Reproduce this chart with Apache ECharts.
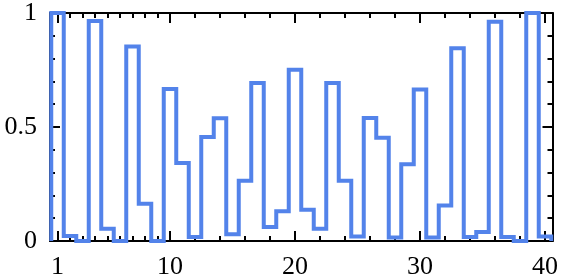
<!DOCTYPE html>
<html><head><meta charset="utf-8">
<script src="https://cdn.jsdelivr.net/npm/echarts@6/dist/echarts.min.js"></script>
<style>html,body{margin:0;padding:0;background:#fff}#c{width:561px;height:280px}</style>
</head><body><div id="c"></div>
<script>
// bins 1..40
const bins = Array.from({length: 40}, (_, i) => i + 1);
const values = [1.0, 0.022, 0.0, 0.965, 0.054, 0.0, 0.853, 0.163, 0.0, 0.667,
  0.342, 0.017, 0.456, 0.538, 0.03, 0.264, 0.693, 0.061, 0.131, 0.751,
  0.137, 0.054, 0.693, 0.264, 0.02, 0.54, 0.453, 0.015, 0.337, 0.664,
  0.015, 0.156, 0.845, 0.017, 0.039, 0.962, 0.017, 0.0, 1.0, 0.02];
const xMajor = [1, 10, 20, 30, 40];
const xMinor = [2, 3, 4, 5, 6, 7, 8, 9, 12, 14, 16, 18, 22, 24, 26, 28, 32, 34, 36, 38];
const yMajor = [0, 0.5, 1];
const yMinor = [0.1, 0.2, 0.3, 0.4, 0.6, 0.7, 0.8, 0.9];

// outline of the step histogram: each bin spans [bin-0.5, bin+0.5]
const pts = [[bins[0] - 0.5, 0]];
bins.forEach((b, i) => pts.push([b - 0.5, values[i]]));
pts.push([bins[bins.length - 1] + 0.5, 0]);

const font = {fontFamily: 'Liberation Serif', fontSize: 26, color: '#000'};
const lineStyle = {color: '#000', width: 2};
function xAx(pos, vals, len, showLine, showLabel) {
  return {type: 'value', position: pos, min: 0.4, max: 40.6,
    axisLine: {show: showLine, onZero: false, lineStyle},
    splitLine: {show: false},
    axisTick: {show: true, inside: true, length: len, customValues: vals, lineStyle: {color: '#000', width: 2}},
    axisLabel: Object.assign({show: showLabel, customValues: vals, margin: 13}, font)};
}
function yAx(pos, vals, len, showLine, showLabel) {
  return {type: 'value', position: pos, min: 0, max: 1,
    axisLine: {show: showLine, onZero: false, lineStyle},
    splitLine: {show: false},
    axisTick: {show: true, inside: true, length: len, customValues: vals, lineStyle: {color: '#000', width: 2}},
    axisLabel: Object.assign({show: showLabel, customValues: vals, margin: 13, formatter: v => String(v)}, font)};
}
const chart = echarts.init(document.getElementById('c'));
chart.setOption({
  animation: false,
  grid: {left: 50, right: 8, top: 11, bottom: 39, containLabel: false},
  xAxis: [xAx('bottom', xMajor, 10, true, true), xAx('bottom', xMinor, 5, false, false),
          xAx('top', xMajor, 10, true, false), xAx('top', xMinor, 5, false, false)],
  yAxis: [yAx('left', yMajor, 10, true, true), yAx('left', yMinor, 5, false, false),
          yAx('right', yMajor, 10, true, false), yAx('right', yMinor, 5, false, false)],
  series: [{type: 'line', data: pts, step: 'end', showSymbol: false, clip: false,
    lineStyle: {color: '#5383EA', width: 4, join: 'miter'}}]
});
</script></body></html>
